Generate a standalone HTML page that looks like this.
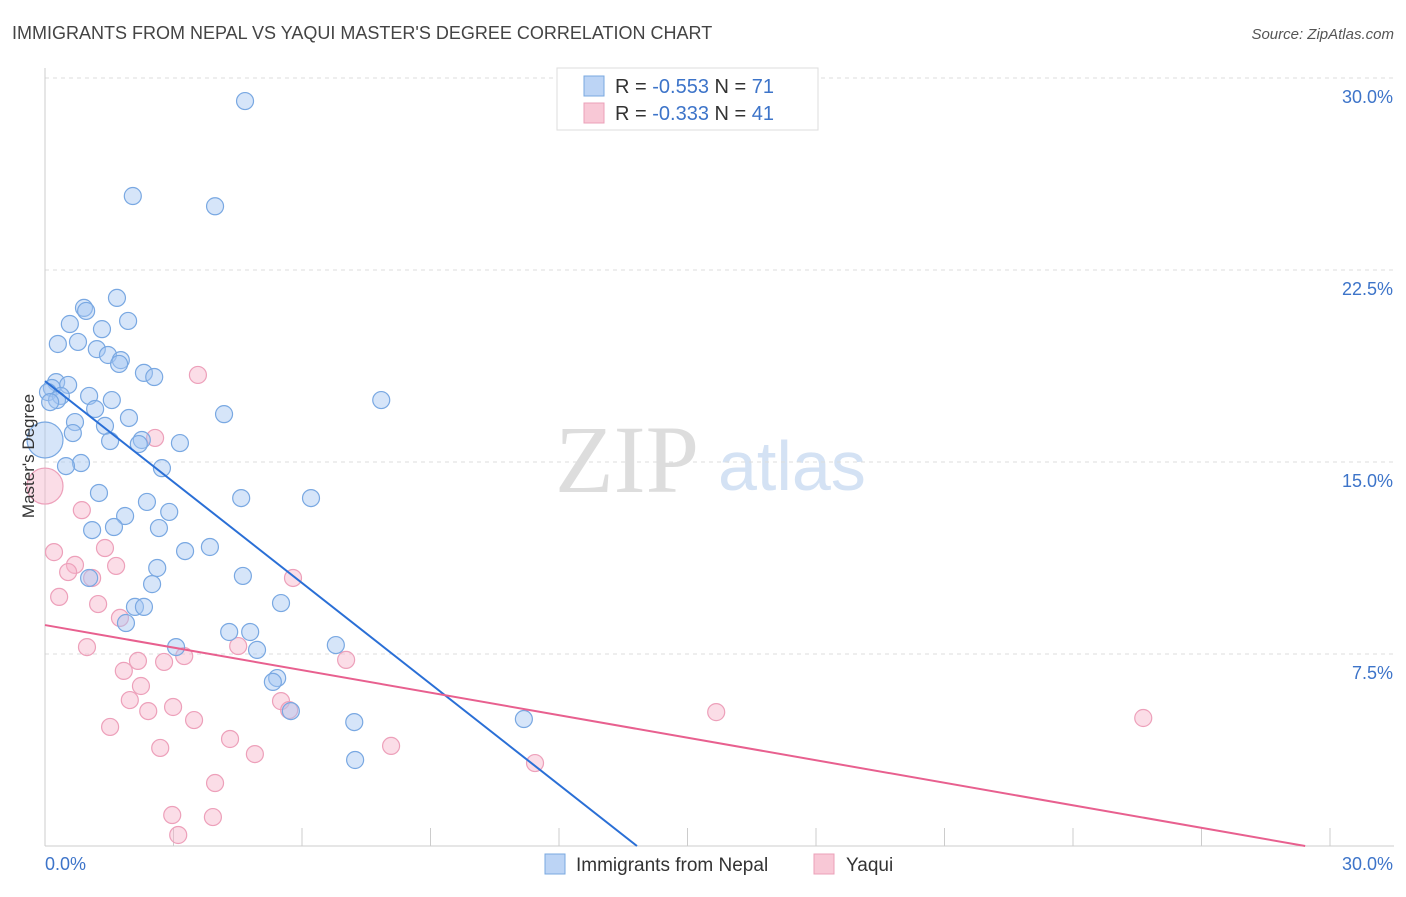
<!DOCTYPE html>
<html><head><meta charset="utf-8"><style>
body{margin:0;background:#fff;font-family:"Liberation Sans",sans-serif;}
svg text{font-family:"Liberation Sans",sans-serif;}
</style></head><body>
<svg id="chart" width="1406" height="892" xmlns="http://www.w3.org/2000/svg">
<text x="12" y="39" font-size="18" fill="#444">IMMIGRANTS FROM NEPAL VS YAQUI MASTER'S DEGREE CORRELATION CHART</text>
<text x="1394" y="39" font-size="15" fill="#555" text-anchor="end" font-style="italic">Source: ZipAtlas.com</text>
<g>
<text x="555" y="492" font-size="96" fill="#ddd" font-family="Liberation Serif" style="font-family:'Liberation Serif',serif">ZIP</text>
<text x="718" y="490" font-size="70" fill="#d4e2f4">atlas</text>
</g>
<g id="grid"></g>
<g id="axes"></g>
<g id="pts"></g>
<g id="trend"></g>
<text transform="translate(34,456) rotate(-90)" font-size="17" fill="#333" text-anchor="middle">Master's Degree</text>
<g>
<rect x="557" y="68" width="261" height="62" fill="#fff" stroke="#ddd"/>
<rect x="584" y="76" width="20" height="20" fill="#bcd4f5" stroke="#7aa8e0"/>
<rect x="584" y="103" width="20" height="20" fill="#f8c8d6" stroke="#eba0b8"/>
<text x="615" y="93" font-size="20" fill="#333">R = <tspan fill="#3d74c9">-0.553</tspan>   N = <tspan fill="#3d74c9">71</tspan></text>
<text x="615" y="120" font-size="20" fill="#333">R = <tspan fill="#3d74c9">-0.333</tspan>   N = <tspan fill="#3d74c9">41</tspan></text>
</g>
<g>
<rect x="545" y="854" width="20" height="20" fill="#bcd4f5" stroke="#7aa8e0"/>
<text x="576" y="871" font-size="19" fill="#333">Immigrants from Nepal</text>
<rect x="814" y="854" width="20" height="20" fill="#f8c8d6" stroke="#eba0b8"/>
<text x="846" y="871" font-size="19" fill="#333">Yaqui</text>
</g>
</svg>
<script>
const yTicks=[7.5,15,22.5,30];
const yTickLabels=["7.5%","15.0%","22.5%","30.0%"];
const xTickLabels=["0.0%","30.0%"];
const blueX=[4.67,2.05,3.97,1.68,0.91,0.96,1.94,0.58,1.33,0.30,0.77,1.21,1.47,1.77,1.73,2.31,2.55,0.26,0.54,0.16,0.07,0.37,1.03,0.28,0.12,1.56,7.85,1.17,4.18,1.96,0.70,1.40,0.65,2.26,1.52,2.19,3.15,0,0.84,0.49,2.73,1.26,4.58,6.21,2.38,1.87,2.90,1.10,1.61,2.66,3.85,3.27,2.62,4.62,1.03,2.50,5.51,2.10,2.31,1.89,4.30,4.79,3.06,4.95,6.79,5.42,5.32,5.74,7.22,11.18,7.24];
const blueY=[29.10,25.39,24.99,21.41,21.02,20.90,20.51,20.39,20.19,19.61,19.69,19.41,19.18,18.98,18.83,18.48,18.32,18.12,18.01,17.89,17.73,17.58,17.58,17.42,17.34,17.42,17.42,17.07,16.87,16.72,16.56,16.41,16.13,15.86,15.82,15.70,15.74,15.86,14.96,14.84,14.76,13.79,13.59,13.59,13.44,12.89,13.05,12.34,12.46,12.42,11.68,11.52,10.86,10.55,10.47,10.23,9.49,9.34,9.34,8.71,8.36,8.36,7.77,7.66,7.85,6.56,6.41,5.27,4.84,4.96,3.36];
const pinkX=[3.57,2.57,0,0.86,1.40,0.21,0.70,1.66,0.54,1.10,5.79,0.33,1.24,1.75,0.98,4.51,7.03,2.17,2.78,3.25,1.84,2.24,1.98,5.51,5.70,2.41,2.99,3.48,15.67,25.64,1.52,4.32,8.08,2.69,4.90,11.44,3.97,2.97,3.92,3.11];
const pinkY=[18.40,15.94,14.06,13.12,11.64,11.48,10.98,10.94,10.70,10.47,10.47,9.73,9.45,8.91,7.77,7.81,7.27,7.23,7.19,7.42,6.84,6.25,5.70,5.66,5.31,5.27,5.43,4.92,5.23,5.00,4.65,4.18,3.91,3.83,3.59,3.24,2.46,1.21,1.13,0.43];
const blueBig=[37];const pinkBig=[2];
const blueTrend=[[0,18.16],[13.82,0]];
const pinkTrend=[[0,8.63],[29.42,0]];
const NS="http://www.w3.org/2000/svg";
const X=v=>45+v/30*1285, Y=v=>846-v/30*768;
function mk(t,a,p){const e=document.createElementNS(NS,t);for(const k in a)e.setAttribute(k,a[k]);p.appendChild(e);return e;}
const grid=document.getElementById('grid'),axes=document.getElementById('axes');
yTicks.forEach((t,i)=>{
 const l=mk('line',{x1:45,x2:1394,y1:Y(t),y2:Y(t),stroke:'#ddd','stroke-dasharray':'4,4'},grid);
 
 
 const tx=mk('text',{x:1393,y:Y(t)+25,'font-size':18,fill:'#3d74c9','text-anchor':'end'},axes);
 tx.textContent=yTickLabels[i];
 
 
});
mk('line',{x1:45,x2:45,y1:68,y2:846,stroke:'#ccc'},axes);
mk('line',{x1:45,x2:1394,y1:846,y2:846,stroke:'#ccc'},axes);
for(let i=0;i<=10;i++){const t=mk('line',{x1:X(i*3),x2:X(i*3),y1:828,y2:846,stroke:'#ccc'},axes);
 
 }
const xl0=mk('text',{x:45,y:870,'font-size':18,fill:'#3d74c9'},axes);xl0.textContent=xTickLabels[0];


const xl1=mk('text',{x:1393,y:870,'font-size':18,fill:'#3d74c9','text-anchor':'end'},axes);xl1.textContent=xTickLabels[1];


const pts=document.getElementById('pts');
pinkX.forEach((x,i)=>{const c=mk('circle',{cx:X(x),cy:Y(pinkY[i]),r:pinkBig.includes(i)?18:8.5,fill:'rgba(246,180,202,0.45)',stroke:'#eda0ba','stroke-width':1.2},pts);
 
 });
blueX.forEach((x,i)=>{const c=mk('circle',{cx:X(x),cy:Y(blueY[i]),r:blueBig.includes(i)?18:8.5,fill:'rgba(165,198,242,0.45)',stroke:'#79a8e2','stroke-width':1.2},pts);
 
 });
const tr=document.getElementById('trend');
const bl=mk('line',{x1:X(blueTrend[0][0]),y1:Y(blueTrend[0][1]),x2:X(blueTrend[1][0]),y2:Y(blueTrend[1][1]),stroke:'#2a6fd6','stroke-width':2},tr);


const pl=mk('line',{x1:X(pinkTrend[0][0]),y1:Y(pinkTrend[0][1]),x2:X(pinkTrend[1][0]),y2:Y(pinkTrend[1][1]),stroke:'#e8608f','stroke-width':2},tr);


</script>
</body></html>
